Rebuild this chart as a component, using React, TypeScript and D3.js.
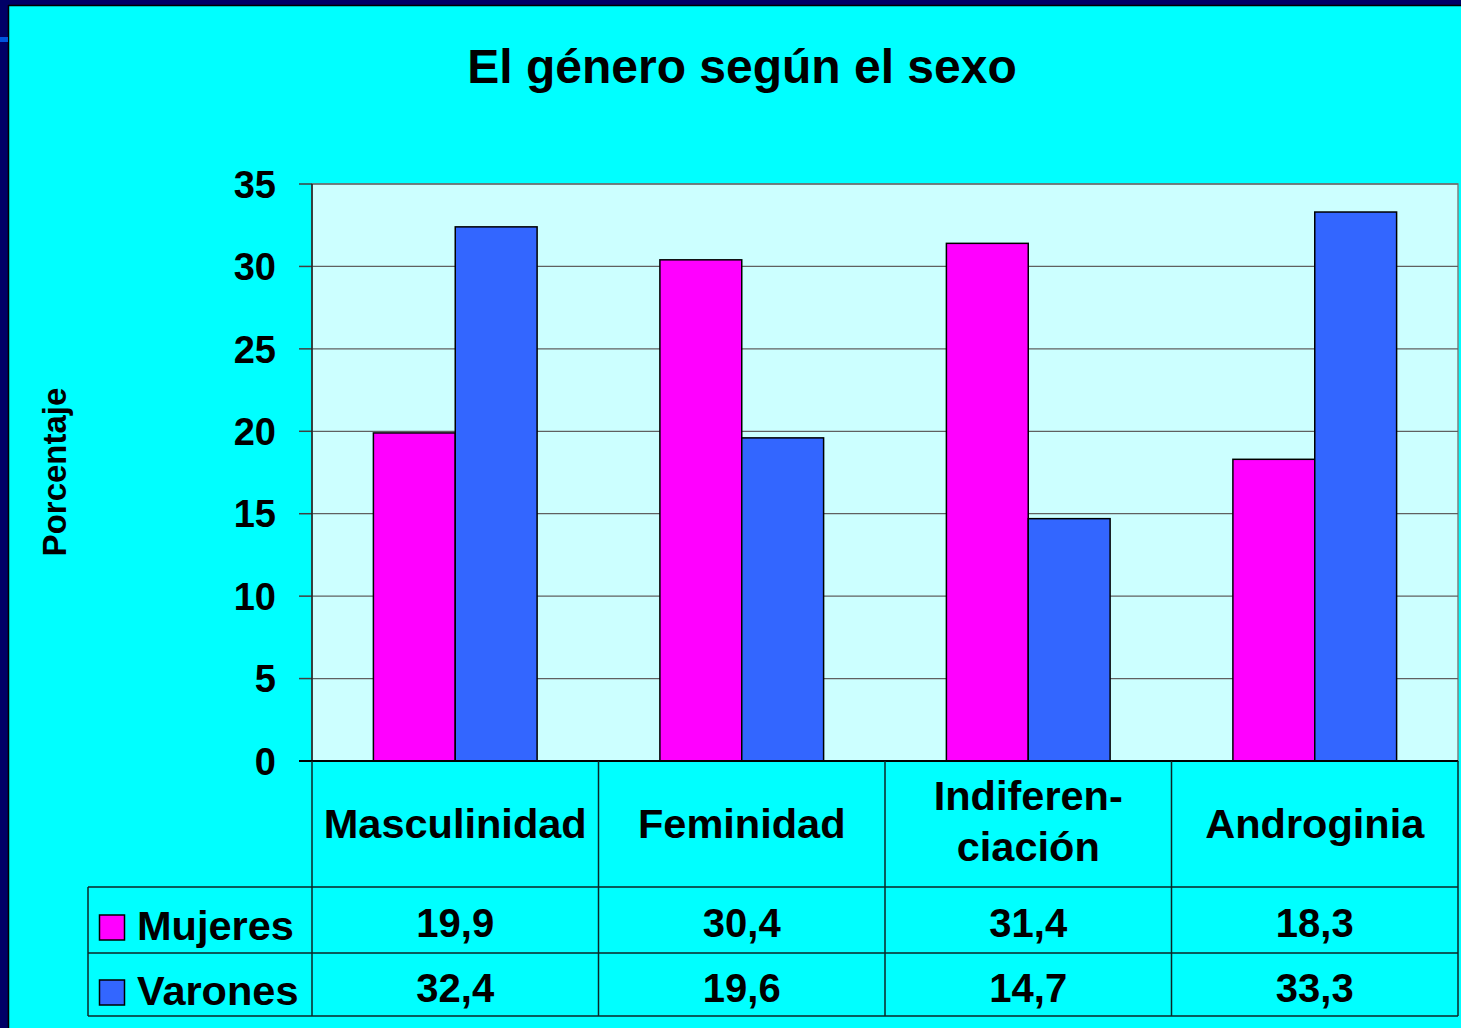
import React from 'react';
import * as d3 from 'd3';

const categories = ['Masculinidad', 'Feminidad', 'Indiferenciación', 'Androginia'];
const categoryLines = [['Masculinidad'], ['Feminidad'], ['Indiferen-', 'ciación'], ['Androginia']];
const series = ['Mujeres', 'Varones'];
const mujeres = [19.9, 30.4, 31.4, 18.3];
const varones = [32.4, 19.6, 14.7, 33.3];
const yTicks = [0, 5, 10, 15, 20, 25, 30, 35];
const seriesColors = ['#FF00FF', '#3366FF'];

const W = 1461;
const H = 1028;
const plot = { left: 312, right: 1458, top: 184, bottom: 761 };
const table = { left: 88, headerBottom: 887, row1Bottom: 953, row2Bottom: 1016 };
const font = 'Arial, "Liberation Sans", sans-serif';

const fmt = (v: number) => d3.format('.1f')(v).replace('.', ',');

const App = () => {
  const values = [mujeres, varones];
  const x0 = d3.scaleBand<string>().domain(categories).range([plot.left, plot.right]).padding(0);
  const x1 = d3.scaleBand<string>().domain(series).range([0, x0.bandwidth()]).paddingInner(0).paddingOuter(0.75);
  const y = d3.scaleLinear().domain([0, 35]).range([plot.bottom, plot.top]);
  const colEdges = categories.map((c) => x0(c) as number).concat([plot.right]);
  const rowBase = [937, 1002];
  const lineColor = '#0b2626';

  return (
    <svg width={W} height={H} style={{ position: 'absolute', left: 0, top: 0, display: 'block' }}>
      {/* slide frame */}
      <rect x={0} y={0} width={W} height={H} fill="#000066" />
      <rect x={8} y={5} width={W - 8} height={H - 5} fill="#00FFFF" />
      <line x1={8} y1={5.5} x2={W} y2={5.5} stroke="#000" strokeWidth={1.5} />
      <line x1={8.5} y1={5} x2={8.5} y2={H} stroke="#000" strokeWidth={1.5} />
      <rect x={0} y={37} width={8} height={5} fill="#0055DD" />

      <text x={742} y={83} textAnchor="middle" fontFamily={font} fontWeight="bold" fontSize={48}>
        El género según el sexo
      </text>

      {/* plot area */}
      <rect x={plot.left} y={plot.top} width={plot.right - plot.left} height={plot.bottom - plot.top} fill="#CCFFFF" stroke="#808080" strokeWidth={1.5} />
      {yTicks.map((t) => (
        <g key={t}>
          {t > 0 && <line x1={plot.left} x2={plot.right} y1={y(t)} y2={y(t)} stroke="#606060" strokeWidth={1.2} />}
          <line x1={299} x2={plot.left} y1={y(t)} y2={y(t)} stroke="#404040" strokeWidth={1.5} />
          <text x={276} y={y(t)} dy="0.36em" textAnchor="end" fontFamily={font} fontWeight="bold" fontSize={38}>
            {t}
          </text>
        </g>
      ))}
      <line x1={plot.left} x2={plot.left} y1={plot.top} y2={plot.bottom} stroke="#202020" strokeWidth={1.5} />

      {categories.map((c, ci) => (
        <g key={c} transform={`translate(${x0(c)},0)`}>
          {series.map((s, si) => (
            <rect
              key={s}
              x={x1(s)}
              y={y(values[si][ci])}
              width={x1.bandwidth()}
              height={y(0) - y(values[si][ci])}
              fill={seriesColors[si]}
              stroke="#000"
              strokeWidth={1.5}
            />
          ))}
        </g>
      ))}

      <text transform="translate(66,472) rotate(-90)" textAnchor="middle" fontFamily={font} fontWeight="bold" fontSize={33}>
        Porcentaje
      </text>

      {/* data table */}
      <line x1={299} x2={plot.right} y1={plot.bottom} y2={plot.bottom} stroke="#000" strokeWidth={2} />
      {colEdges.map((cx, i) => (
        <line key={i} x1={cx} x2={cx} y1={plot.bottom} y2={table.row2Bottom} stroke={lineColor} strokeWidth={1.5} />
      ))}
      {[table.headerBottom, table.row1Bottom, table.row2Bottom].map((ry) => (
        <line key={ry} x1={table.left} x2={plot.right} y1={ry} y2={ry} stroke={lineColor} strokeWidth={1.5} />
      ))}
      <line x1={table.left} x2={table.left} y1={table.headerBottom} y2={table.row2Bottom} stroke={lineColor} strokeWidth={1.5} />

      {categories.map((c, ci) => {
        const cx = (x0(c) as number) + x0.bandwidth() / 2;
        const lines = categoryLines[ci];
        return (
          <g key={c}>
            {lines.map((ln, li) => (
              <text
                key={li}
                x={cx}
                y={lines.length === 1 ? 838 : 810 + li * 51}
                textAnchor="middle"
                fontFamily={font}
                fontWeight="bold"
                fontSize={41.5}
              >
                {ln}
              </text>
            ))}
            {series.map((s, si) => (
              <text key={s} x={cx} y={rowBase[si]} textAnchor="middle" fontFamily={font} fontWeight="bold" fontSize={40}>
                {fmt(values[si][ci])}
              </text>
            ))}
          </g>
        );
      })}

      {series.map((s, si) => (
        <g key={s}>
          <rect x={99.5} y={rowBase[si] - 22} width={25} height={25} fill={seriesColors[si]} stroke="#000" strokeWidth={1.5} />
          <text x={137} y={rowBase[si] + 3} fontFamily={font} fontWeight="bold" fontSize={41.5}>
            {s}
          </text>
        </g>
      ))}
    </svg>
  );
};

export default App;
